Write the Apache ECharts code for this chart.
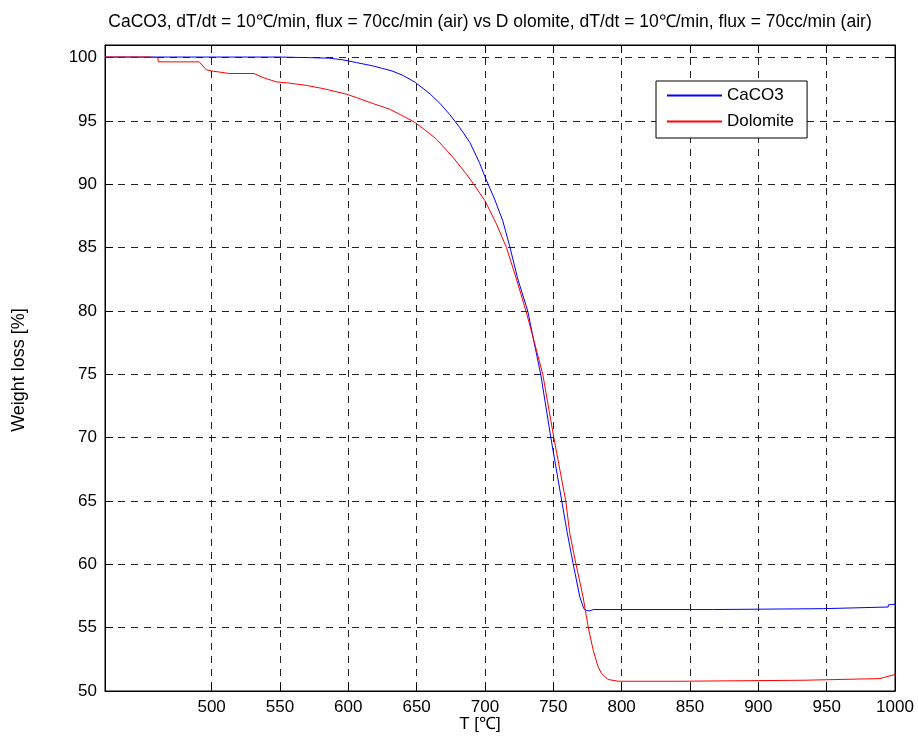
<!DOCTYPE html>
<html>
<head>
<meta charset="utf-8">
<script src="https://cdn.jsdelivr.net/npm/echarts@6/dist/echarts.min.js"></script>
<style>
html,body{margin:0;padding:0;background:#fff;}
#chart{width:918px;height:740px;}
</style>
</head>
<body>
<div id="chart"></div>
<script>
// ---- data ----
const xTicks = [500, 550, 600, 650, 700, 750, 800, 850, 900, 950, 1000];
const yTicks = [50, 55, 60, 65, 70, 75, 80, 85, 90, 95, 100];

const caco3T = [422, 450, 500, 550, 572, 586, 596, 606, 618, 625, 632, 640, 649, 660, 667, 674, 681.5, 689, 696, 700, 707, 713, 718, 724, 731.3, 736, 740.8, 748.2, 756.2, 760, 764.5, 769.4, 772.3, 774.5, 776.7, 779.2, 800, 866.5, 866.6, 947.5, 947.6, 995, 995.1, 1000];
const caco3W = [100.05, 100.05, 100.05, 100.05, 100.0, 99.96, 99.83, 99.61, 99.35, 99.15, 98.95, 98.6, 98.05, 97.12, 96.4, 95.54, 94.49, 93.3, 91.7, 90.6, 88.84, 87.13, 85.16, 82.53, 80.0, 77.5, 75.0, 70.0, 65.0, 62.6, 60.06, 57.42, 56.5, 56.35, 56.32, 56.43, 56.43, 56.43, 56.5, 56.5, 56.63, 56.63, 56.8, 56.85];

const dolT = [422, 454, 455, 460.7, 461, 491, 496, 500, 513, 531, 537.6, 547.4, 557, 570, 581.5, 598.6, 606, 618, 630, 640, 648.6, 656, 664.5, 676.7, 686.4, 692.5, 700, 708.4, 715.7, 723, 730, 736, 742.3, 750.4, 759.1, 762.1, 766.5, 771.8, 775.5, 779.2, 782.8, 785.3, 790.1, 797.4, 842.6, 842.7, 934.1, 934.2, 989, 989.1, 993, 1000];
const dolW = [100.05, 100.05, 100.0, 100.0, 99.67, 99.67, 99.05, 98.95, 98.75, 98.75, 98.43, 98.09, 97.99, 97.8, 97.56, 97.12, 96.85, 96.38, 95.94, 95.4, 94.9, 94.3, 93.57, 92.12, 90.81, 89.89, 88.71, 86.87, 85.02, 82.53, 80.0, 77.6, 75.0, 70.0, 65.0, 62.42, 60.06, 57.42, 55.06, 53.22, 51.9, 51.38, 50.91, 50.77, 50.77, 50.85, 50.85, 50.98, 50.98, 51.06, 51.1, 51.3];

const seriesNames = ['CaCO3', 'Dolomite'];
const titleText = 'CaCO3, dT/dt = 10\u2103/min, flux = 70cc/min (air) vs D olomite, dT/dt = 10\u2103/min, flux = 70cc/min (air)';
const xName = 'T [\u2103]';
const yName = 'Weight loss [%]';

// ---- chart ----
const FONT = "'Liberation Sans', Arial, Helvetica, sans-serif";
const FS = 17;
const chart = echarts.init(document.getElementById('chart'), null, {renderer: 'canvas'});

const zip = (a, b) => a.map((v, i) => [v, b[i]]);
const gridLine = {show: true, lineStyle: {color: '#222', width: 1, type: [7, 6]}};
const tickStyle = {show: true, inside: true, length: 8, lineStyle: {color: '#000', width: 1}};
const plain = v => String(v);

const option = {
  animation: false,
  backgroundColor: '#fff',
  textStyle: {fontFamily: FONT},
  grid: {left: 105, top: 45, width: 790, height: 646, show: true, borderColor: '#000', borderWidth: 1, backgroundColor: '#fff', containLabel: false},
  legend: {
    data: seriesNames,
    orient: 'vertical',
    left: 656, top: 81,
    padding: [6, 13, 8, 11],
    itemGap: 9,
    itemWidth: 55, itemHeight: 2,
    icon: 'rect',
    backgroundColor: '#fff',
    borderColor: '#000', borderWidth: 1, borderRadius: 0,
    textStyle: {fontFamily: FONT, fontSize: FS, color: '#000'}
  },
  graphic: [
    {type: 'text', x: 490, y: 22, style: {text: titleText, font: '17.5px ' + FONT, fill: '#000', textAlign: 'center', textVerticalAlign: 'middle'}},
    {type: 'text', x: 480, y: 724, style: {text: xName, font: FS + 'px ' + FONT, fill: '#000', textAlign: 'center', textVerticalAlign: 'middle'}},
    {type: 'text', x: 19, y: 370, rotation: Math.PI / 2, style: {text: yName, font: '18px ' + FONT, fill: '#000', textAlign: 'center', textVerticalAlign: 'middle'}}
  ],
  xAxis: [
    {type: 'value', position: 'bottom', min: 422, max: 1000,
     axisLine: {show: true, onZero: false, lineStyle: {color: '#000', width: 1}},
     axisTick: Object.assign({customValues: xTicks}, tickStyle),
     axisLabel: {customValues: xTicks, formatter: plain, color: '#000', fontSize: FS, fontFamily: FONT, margin: 8},
     splitLine: gridLine},
    {type: 'value', position: 'top', min: 422, max: 1000,
     axisLine: {show: true, onZero: false, lineStyle: {color: '#000', width: 1}},
     axisTick: Object.assign({customValues: xTicks}, tickStyle),
     axisLabel: {show: false},
     splitLine: {show: false}}
  ],
  yAxis: [
    {type: 'value', position: 'left', min: 50, max: 101,
     axisLine: {show: true, onZero: false, lineStyle: {color: '#000', width: 1}},
     axisTick: Object.assign({customValues: yTicks}, tickStyle),
     axisLabel: {customValues: yTicks, formatter: plain, color: '#000', fontSize: FS, fontFamily: FONT, margin: 8},
     splitLine: gridLine},
    {type: 'value', position: 'right', min: 50, max: 101,
     axisLine: {show: true, onZero: false, lineStyle: {color: '#000', width: 1}},
     axisTick: Object.assign({customValues: yTicks}, tickStyle),
     axisLabel: {show: false},
     splitLine: {show: false}}
  ],
  series: [
    {name: seriesNames[0], type: 'line', xAxisIndex: 0, yAxisIndex: 0, data: zip(caco3T, caco3W),
     showSymbol: false, symbol: 'none', color: '#0000ff', lineStyle: {color: '#0000ff', width: 1}, z: 3},
    {name: seriesNames[1], type: 'line', xAxisIndex: 0, yAxisIndex: 0, data: zip(dolT, dolW),
     showSymbol: false, symbol: 'none', color: '#ff0000', lineStyle: {color: '#ff0000', width: 1}, z: 4}
  ]
};
chart.setOption(option);
</script>
</body>
</html>
